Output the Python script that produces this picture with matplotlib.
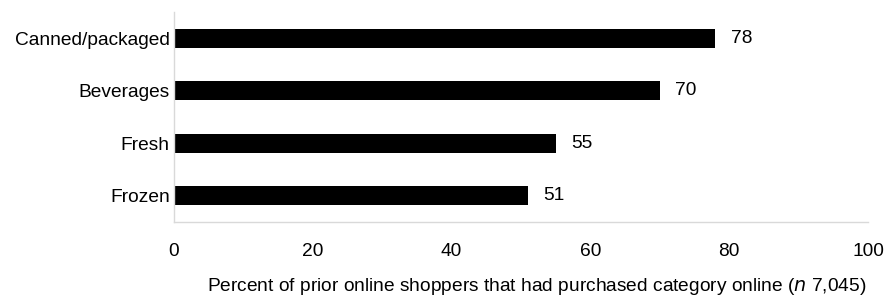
import matplotlib.pyplot as plt

categories = ['Frozen', 'Fresh', 'Beverages', 'Canned/packaged']
percent = [51, 55, 70, 78]
xticks = [0, 20, 40, 60, 80, 100]

plt.rcParams['font.family'] = ['Liberation Sans', 'DejaVu Sans']
fs = 13.8

fig = plt.figure(figsize=(8.89, 2.97), dpi=100)
ax = fig.add_axes([0.1957, 0.2525, 0.7807, 0.7071])

bars = ax.barh(categories, percent, height=0.36, color='black')
for b, v in zip(bars, percent):
    ax.text(b.get_width() + 2.2, b.get_y() + b.get_height() / 2, str(v),
            va='center', ha='left', fontsize=fs)

ax.set_xlim(0, 100)
ax.set_ylim(-0.5, 3.5)
ax.set_xticks(xticks)
ax.tick_params(axis='both', length=0, labelsize=fs)
ax.tick_params(axis='x', pad=15)
ax.tick_params(axis='y', pad=3)

for s in ['top', 'right']:
    ax.spines[s].set_visible(False)
for s in ['left', 'bottom']:
    ax.spines[s].set_color('#d9d9d9')
    ax.spines[s].set_linewidth(1)

ax.set_xlabel('Percent of prior online shoppers that had purchased category online ($\\mathit{n}$ 7,045)',
              fontsize=fs)
ax.xaxis.set_label_coords(0.522, -0.255)

fig.savefig('out.png', dpi=100)
